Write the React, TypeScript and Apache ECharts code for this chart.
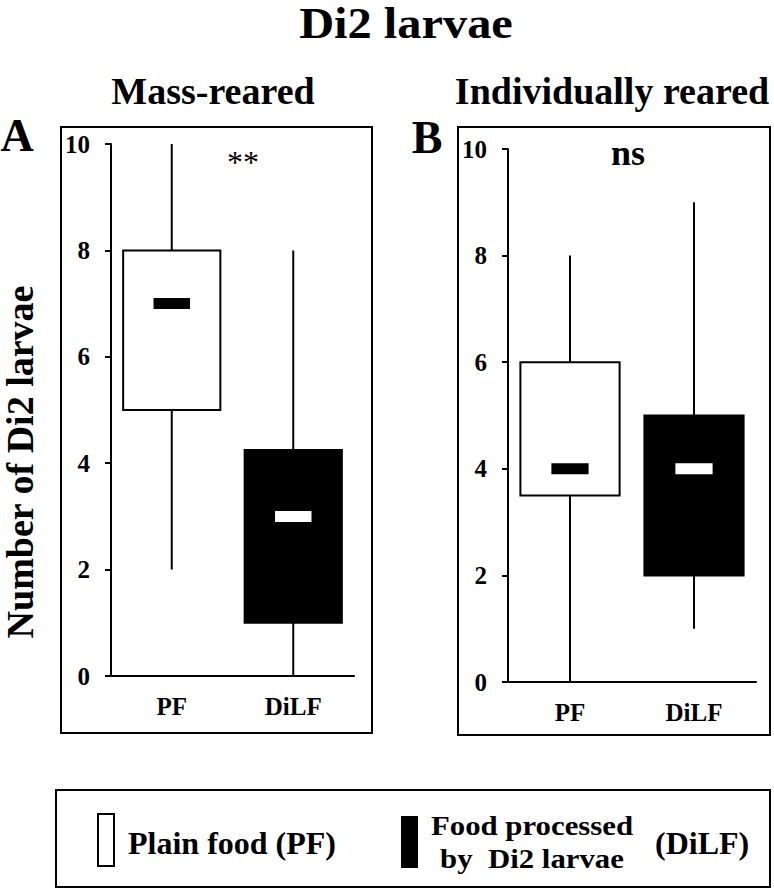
import React, { useEffect, useRef } from "react";
import * as echarts from "echarts";

const categories = ["PF", "DiLF"];
// [min, q1, median, q3, max]
const massReared = [
  [2, 5, 7, 8, 10],
  [0, 1, 3, 4.25, 8],
];
const individuallyReared = [
  [0, 3.5, 4, 6, 8],
  [1, 2, 4, 5, 9],
];
const yMin = 0;
const yMax = 10;
const yInterval = 2;

const FONT = "Liberation Serif";

function renderBox(params: any, api: any) {
  const x = api.value(0);
  const pMin = api.coord([x, api.value(1)]);
  const pQ1 = api.coord([x, api.value(2)]);
  const pMed = api.coord([x, api.value(3)]);
  const pQ3 = api.coord([x, api.value(4)]);
  const pMax = api.coord([x, api.value(5)]);
  const band = api.size([1, 0])[0];
  const bw = band * 0.8;
  const mw = band * 0.3;
  const dark = x === 1;
  return {
    type: "group",
    children: [
      {
        type: "line",
        shape: { x1: pMin[0], y1: pMin[1], x2: pMax[0], y2: pMax[1] },
        style: { stroke: "#000", lineWidth: 2 },
      },
      {
        type: "rect",
        shape: { x: pQ1[0] - bw / 2, y: pQ3[1], width: bw, height: pQ1[1] - pQ3[1] },
        style: { fill: dark ? "#000" : "#fff", stroke: "#000", lineWidth: 2 },
      },
      {
        type: "rect",
        shape: { x: pMed[0] - mw / 2, y: pMed[1] - 5.5, width: mw, height: 11 },
        style: { fill: dark ? "#fff" : "#000" },
      },
    ],
  };
}

function txt(text: string, x: number, y: number, size: number, opts: any = {}) {
  return {
    type: "text",
    x,
    y,
    rotation: opts.rotation || 0,
    scaleX: opts.scaleX || 1,
    style: {
      text,
      fontFamily: FONT,
      fontSize: size,
      fontWeight: opts.weight || "bold",
      fill: "#000",
      align: opts.align || "center",
      verticalAlign: "middle",
      lineHeight: opts.lineHeight,
    },
  };
}

export default function App() {
  const ref = useRef<HTMLDivElement>(null);
  useEffect(() => {
    if (!ref.current) return;
    const chart = echarts.init(ref.current, undefined, { renderer: "svg" });
    const axisLabel = {
      fontFamily: FONT,
      fontSize: 25,
      fontWeight: "bold",
      color: "#000",
    };
    const yAxisCommon = {
      type: "value",
      min: yMin,
      max: yMax,
      interval: yInterval,
      axisLine: { show: true, lineStyle: { color: "#000", width: 2 } },
      axisTick: { show: true, length: 6, lineStyle: { color: "#000", width: 2 } },
      splitLine: { show: false },
      axisLabel: { ...axisLabel, margin: 21 },
    };
    const xAxisCommon = {
      type: "category",
      data: categories,
      axisLine: { show: true, lineStyle: { color: "#000", width: 2 } },
      axisTick: { show: false },
      axisLabel: { ...axisLabel, margin: 18 },
    };
    const toData = (arr: number[][]) => arr.map((d, i) => [i, ...d]);
    chart.setOption({
      animation: false,
      backgroundColor: "#fff",
      textStyle: { fontFamily: FONT },
      grid: [
        { left: 111, top: 144, width: 243, height: 532 },
        { left: 508, top: 149, width: 248, height: 533 },
      ],
      xAxis: [
        { ...xAxisCommon, gridIndex: 0 },
        { ...xAxisCommon, gridIndex: 1 },
      ],
      yAxis: [
        { ...yAxisCommon, gridIndex: 0 },
        { ...yAxisCommon, gridIndex: 1 },
      ],
      series: [
        {
          type: "custom",
          name: "Mass-reared",
          xAxisIndex: 0,
          yAxisIndex: 0,
          renderItem: renderBox,
          encode: { x: 0, y: [1, 2, 3, 4, 5] },
          data: toData(massReared),
        },
        {
          type: "custom",
          name: "Individually reared",
          xAxisIndex: 1,
          yAxisIndex: 1,
          renderItem: renderBox,
          encode: { x: 0, y: [1, 2, 3, 4, 5] },
          data: toData(individuallyReared),
        },
      ],
      graphic: [
        {
          type: "rect",
          shape: { x: 61, y: 127, width: 311, height: 606 },
          style: { fill: "none", stroke: "#000", lineWidth: 2 },
        },
        {
          type: "rect",
          shape: { x: 458, y: 127, width: 312, height: 608 },
          style: { fill: "none", stroke: "#000", lineWidth: 2 },
        },
        txt("Di2 larvae", 406, 23, 44, { scaleX: 1.1 }),
        txt("Mass-reared", 213, 91, 38),
        txt("Individually reared", 612, 91, 38),
        txt("A", 17, 135, 46),
        txt("B", 427, 137, 46),
        txt("Number of Di2 larvae", 20, 462, 38, { rotation: Math.PI / 2 }),
        txt("**", 243, 162, 32, { weight: "normal" }),
        txt("ns", 628, 153, 36),
        // legend
        {
          type: "rect",
          shape: { x: 56, y: 790, width: 714, height: 97 },
          style: { fill: "none", stroke: "#000", lineWidth: 2 },
        },
        {
          type: "rect",
          shape: { x: 98, y: 814, width: 16, height: 52 },
          style: { fill: "#fff", stroke: "#000", lineWidth: 2 },
        },
        {
          type: "rect",
          shape: { x: 401, y: 816, width: 17, height: 52 },
          style: { fill: "#000" },
        },
        txt("Plain food (PF)", 128, 843, 32, { align: "left" }),
        txt("Food processed\nby  Di2 larvae", 532, 842, 28, { lineHeight: 33, scaleX: 1.1 }),
        txt("(DiLF)", 655, 843, 32, { align: "left" }),
      ],
    });
    return () => chart.dispose();
  }, []);
  return (
    <div
      ref={ref}
      style={{ position: "fixed", left: 0, top: 0, width: "774px", height: "889px", background: "#fff" }}
    />
  );
}
